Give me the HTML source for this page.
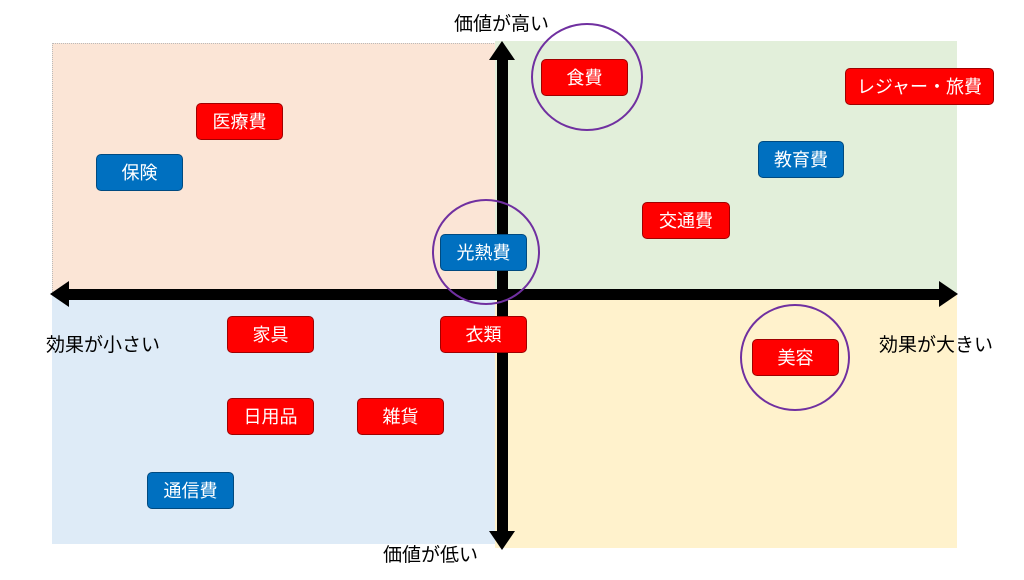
<!DOCTYPE html>
<html><head><meta charset="utf-8"><style>
body{margin:0;width:1024px;height:580px;background:#fff;position:relative;overflow:hidden;font-family:"Liberation Sans","Noto Sans CJK JP",sans-serif}
.q{position:absolute}
.b{position:absolute;height:37px;border-radius:5px;color:#fff;font-size:18px;line-height:37px;text-align:center;box-sizing:border-box}
.r{background:#f00;border:1.5px solid #a00000}
.u{background:#0070c0;border:1.5px solid #004a80}
.t{position:absolute;font-size:19px;color:#000;white-space:nowrap}
.c{position:absolute;border:2.5px solid #7030a0;border-radius:50%;box-sizing:border-box}
</style></head><body>
<div class="q" style="left:52px;top:43px;width:443px;height:250px;background:#fbe5d6;border-left:1px dotted #bbb;border-top:1px dotted #bbb"></div>
<div class="q" style="left:495px;top:41px;width:462px;height:252px;background:#e2efda"></div>
<div class="q" style="left:52px;top:293px;width:443px;height:251px;background:#deebf7"></div>
<div class="q" style="left:495px;top:293px;width:462px;height:255px;background:#fff2cc"></div>
<svg style="position:absolute;left:0;top:0" width="1024" height="580">
<rect x="497" y="58" width="11" height="474" fill="#000"/>
<polygon points="502,41 489,60 515,60" fill="#000"/>
<polygon points="502,550 489,531 515,531" fill="#000"/>
<rect x="68" y="289" width="872" height="11" fill="#000"/>
<polygon points="50,294 69,281 69,307" fill="#000"/>
<polygon points="958,294 939,281 939,307" fill="#000"/>
</svg>
<div class="b r" style="left:541px;top:59px;width:87px">食費</div>
<div class="b r" style="left:845px;top:68px;width:149px">レジャー・旅費</div>
<div class="b r" style="left:196px;top:103px;width:87px">医療費</div>
<div class="b u" style="left:96px;top:154px;width:87px">保険</div>
<div class="b u" style="left:758px;top:141px;width:86px">教育費</div>
<div class="b r" style="left:642px;top:202px;width:88px">交通費</div>
<div class="b u" style="left:440px;top:234px;width:87px">光熱費</div>
<div class="b r" style="left:227px;top:316px;width:87px">家具</div>
<div class="b r" style="left:440px;top:316px;width:87px">衣類</div>
<div class="b r" style="left:752px;top:339px;width:87px">美容</div>
<div class="b r" style="left:227px;top:398px;width:87px">日用品</div>
<div class="b r" style="left:357px;top:398px;width:87px">雑貨</div>
<div class="b u" style="left:147px;top:472px;width:87px">通信費</div>
<div class="c" style="left:531px;top:23px;width:112px;height:108px"></div>
<div class="c" style="left:432px;top:199px;width:108px;height:106px"></div>
<div class="c" style="left:740px;top:304px;width:110px;height:107px"></div>
<div class="t" style="left:454px;top:9px">価値が高い</div>
<div class="t" style="left:383px;top:540px">価値が低い</div>
<div class="t" style="left:46px;top:330px">効果が小さい</div>
<div class="t" style="left:879px;top:330px">効果が大きい</div>
</body></html>
